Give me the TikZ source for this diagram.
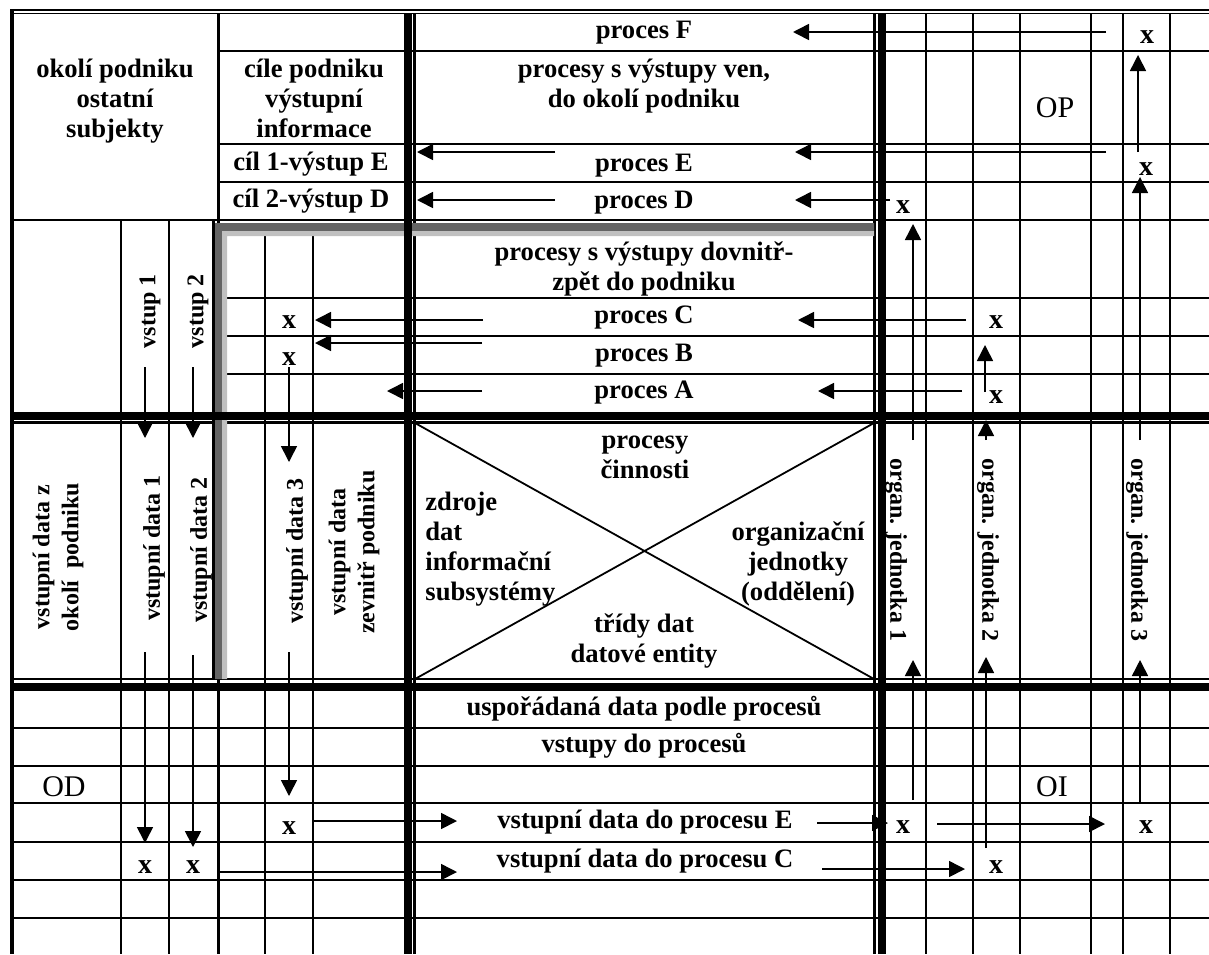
\documentclass[tikz,border=0pt]{standalone}
\usepackage{fontspec}
\setmainfont{Liberation Serif}
\usetikzlibrary{arrows.meta}
\definecolor{framedark}{RGB}{100,100,100}
\definecolor{framelight}{RGB}{192,192,192}
\begin{document}
\begin{tikzpicture}[x=0.5pt, y=-0.5pt,
  every node/.style={inner sep=0pt, font=\fontsize{13.3}{15}\selectfont\bfseries},
  lab/.style={anchor=base, align=center},
  xm/.style={anchor=base, font=\fontsize{14}{16}\selectfont\bfseries},
  vlab/.style={align=center, font=\fontsize{12}{14.5}\selectfont\bfseries},
  big/.style={anchor=base, font=\fontsize{15}{18}\selectfont},
  grid/.style={line width=1.3pt},
  heavy/.style={line width=4pt},
  arr/.style={line width=0.8pt, -{Triangle[length=8pt,width=8pt]}}]
\useasboundingbox (0,0) rectangle (1209,954);

\draw[grid] (218.5,13) -- (218.5,954) (121,220) -- (121,954) (169,220) -- (169,954)
  (265,231) -- (265,954) (313,231) -- (313,954)
  (926,13) -- (926,954) (973,13) -- (973,954) (1020,13) -- (1020,954)
  (1091,13) -- (1091,954) (1123,13) -- (1123,954) (1170,13) -- (1170,954);
\draw[grid] (218.5,51) -- (1209,51) (218.5,144) -- (1209,144) (218.5,182) -- (1209,182)
  (10,220) -- (1209,220) (227,298) -- (1209,298) (227,336) -- (1209,336) (227,374) -- (1209,374)
  (10,728) -- (1209,728) (10,766) -- (1209,766) (10,803) -- (1209,803)
  (10,842) -- (1209,842) (10,880) -- (1209,880) (10,918) -- (1209,918);
\draw[grid] (414.5,13) -- (414.5,954) (874.5,13) -- (874.5,954)
  (10,422.5) -- (1209,422.5) (10,679) -- (1209,679);

\fill (212,220) rectangle (215,679);
\fill[framedark] (215,223) rectangle (874,231) (215,223) rectangle (222,679);
\fill[framelight] (222,231) rectangle (874,236) (222,231) rectangle (227,679);

\draw[heavy] (408,13) -- (408,954) (881.5,13) -- (881.5,954)
  (10,416) -- (1209,416) (10,686.5) -- (1209,686.5);
\draw[line width=0.8pt] (10,10) -- (1209,10) (10,13.5) -- (1209,13.5);
\draw[line width=1.8pt] (11.8,10) -- (11.8,954);
\draw[line width=0.9pt] (415,423) -- (874,679) (415,679) -- (874,423);

\node[lab] (okoli) at (115,137) {okolí podniku\\ostatní\\subjekty};
\node[lab] (cile) at (314,137) {cíle podniku\\výstupní\\informace};
\node[lab] (cil1) at (311,170) {cíl 1-výstup E};
\node[lab] (cil2) at (311,207) {cíl 2-výstup D};
\node[lab] (pF) at (644,38) {proces F};
\node[lab] (ven) at (644,107) {procesy s výstupy ven,\\do okolí podniku};
\node[lab] (pE) at (644,171) {proces E};
\node[lab] (pD) at (644,208) {proces D};
\node[lab] (dovnitr) at (644,290) {procesy s výstupy dovnitř-\\zpět do podniku};
\node[lab] (pC) at (644,323) {proces C};
\node[lab] (pB) at (644,361) {proces B};
\node[lab] (pA) at (644,398) {proces A};
\node[big] (OP) at (1055,117) {OP};

\node[lab] (cinnost) at (645,478) {procesy\\činnosti};
\node[anchor=base west, align=left] (zdroje) at (425,600) {zdroje\\dat\\informační\\subsystémy};
\node[lab] (organ) at (798,600) {organizační\\jednotky\\(oddělení)};
\node[lab] (tridy) at (644,662) {třídy dat\\datové entity};

\node[vlab, rotate=90] (vstup1) at (150,311) {vstup 1};
\node[vlab, rotate=90] (vstup2) at (198,311) {vstup 2};
\node[vlab, rotate=90] (vdz) at (58,557) {vstupní data z\\okolí\ \ podniku};
\node[vlab, rotate=90] (vd1) at (154,548) {vstupní data 1};
\node[vlab, rotate=90] (vd2) at (201,550) {vstupní data 2};
\node[vlab, rotate=90] (vd3) at (297,551) {vstupní data 3};
\node[vlab, rotate=90] (vdin) at (354,552) {vstupní data\\zevnitř podniku};
\node[vlab, rotate=-90] (oj1) at (896,550) {organ. jednotka 1};
\node[vlab, rotate=-90] (oj2) at (988,550) {organ. jednotka 2};
\node[vlab, rotate=-90] (oj3) at (1137,550) {organ. jednotka 3};

\node[lab] (usp) at (644,715) {uspořádaná data podle procesů};
\node[lab] (vstupy) at (644,752) {vstupy do procesů};
\node[lab] (vdE) at (645,828) {vstupní data do procesu E};
\node[lab] (vdC) at (645,867) {vstupní data do procesu C};
\node[big] (OD) at (64,796) {OD};
\node[big] (OI) at (1052,796) {OI};

\node[xm] (xF) at (1147,43) {x};
\node[xm] (xE) at (1146,175) {x};
\node[xm] (xD) at (903,213) {x};
\node[xm] (xC) at (996,328) {x};
\node[xm] (xA) at (996,403) {x};
\node[xm] (xCl) at (289,328) {x};
\node[xm] (xBl) at (289,365) {x};
\node[xm] (x3) at (289,834) {x};
\node[xm] (x1) at (145,873) {x};
\node[xm] (x2) at (193,873) {x};
\node[xm] (xj1) at (903,833) {x};
\node[xm] (xj2) at (996,873) {x};
\node[xm] (xj3) at (1146,833) {x};

\coordinate (fR) at (1106,32); \coordinate (fL) at (793,32);
\coordinate (eR) at (1106,152); \coordinate (eM) at (795,152);
\coordinate (eS) at (555,152); \coordinate (eL) at (417,152);
\coordinate (dS) at (555,200); \coordinate (dL) at (417,200);
\coordinate (dR) at (890,200); \coordinate (dM) at (795,200);
\coordinate (cR) at (966,320); \coordinate (cM) at (798,320);
\coordinate (cS) at (483,320); \coordinate (cL) at (315,320);
\coordinate (bS) at (482,343); \coordinate (bL) at (315,343);
\coordinate (aS) at (482,391); \coordinate (aL) at (387,391);
\coordinate (aR) at (962,391); \coordinate (aM) at (818,391);
\draw[arr] (fR) -- (fL);
\draw[arr] (eR) -- (eM);
\draw[arr] (eS) -- (eL);
\draw[arr] (dS) -- (dL);
\draw[arr] (dR) -- (dM);
\draw[arr] (cR) -- (cM);
\draw[arr] (cS) -- (cL);
\draw[arr] (bS) -- (bL);
\draw[arr] (aS) -- (aL);
\draw[arr] (aR) -- (aM);

\coordinate (k3a) at (1138,152); \coordinate (k3b) at (1138,55);
\coordinate (k3c) at (1140,440); \coordinate (k3d) at (1140,177);
\coordinate (k3e) at (1140,802); \coordinate (k3f) at (1140,660);
\coordinate (k1a) at (913,440); \coordinate (k1b) at (913,224);
\coordinate (k1c) at (913,800); \coordinate (k1d) at (913,660);
\coordinate (k2a) at (986,440); \coordinate (k2b) at (986,420);
\coordinate (k2c) at (986,848); \coordinate (k2d) at (986,657);
\coordinate (k2e) at (985,392); \coordinate (k2f) at (985,345);
\draw[arr] (k3a) -- (k3b);
\draw[arr] (k3c) -- (k3d);
\draw[arr] (k3e) -- (k3f);
\draw[arr] (k1a) -- (k1b);
\draw[arr] (k1c) -- (k1d);
\draw[arr] (k2a) -- (k2b);
\draw[arr] (k2c) -- (k2d);
\draw[arr] (k2e) -- (k2f);

\coordinate (s1a) at (145,367); \coordinate (s1b) at (145,438);
\coordinate (s1c) at (145,652); \coordinate (s1d) at (145,843);
\coordinate (s2a) at (193,367); \coordinate (s2b) at (193,438);
\coordinate (s2c) at (193,655); \coordinate (s2d) at (193,847);
\coordinate (s3a) at (289,367); \coordinate (s3b) at (289,462);
\coordinate (s3c) at (289,652); \coordinate (s3d) at (289,796);
\draw[arr] (s1a) -- (s1b);
\draw[arr] (s1c) -- (s1d);
\draw[arr] (s2a) -- (s2b);
\draw[arr] (s2c) -- (s2d);
\draw[arr] (s3a) -- (s3b);
\draw[arr] (s3c) -- (s3d);

\coordinate (r3a) at (313,821); \coordinate (r3b) at (457,821);
\coordinate (r2a) at (217,872); \coordinate (r2b) at (457,872);
\coordinate (rEa) at (817,823); \coordinate (rEb) at (888,823);
\coordinate (rJa) at (937,824); \coordinate (rJb) at (1105,824);
\coordinate (rCa) at (822,869); \coordinate (rCb) at (965,869);
\draw[arr] (r3a) -- (r3b);
\draw[arr] (r2a) -- (r2b);
\draw[arr] (rEa) -- (rEb);
\draw[arr] (rJa) -- (rJb);
\draw[arr] (rCa) -- (rCb);
\end{tikzpicture}
\end{document}
